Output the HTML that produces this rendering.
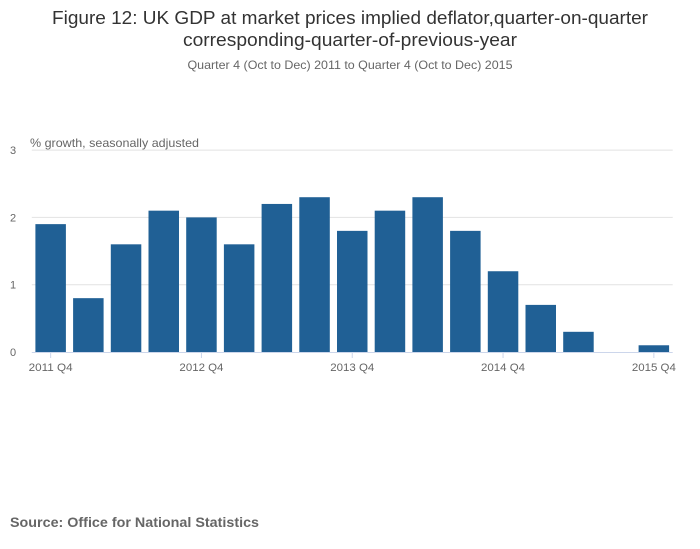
<!DOCTYPE html>
<html><head><meta charset="utf-8"><style>
body{margin:0;background:#fff;}
svg{display:block;font-family:"Liberation Sans",sans-serif;}
</style></head><body>
<svg width="700" height="549" viewBox="0 0 700 549">
<text x="350" y="24" text-anchor="middle" font-size="18" fill="#333" textLength="596" lengthAdjust="spacingAndGlyphs">Figure 12: UK GDP at market prices implied deflator,quarter-on-quarter</text>
<text x="350" y="46" text-anchor="middle" font-size="18" fill="#333" textLength="334" lengthAdjust="spacingAndGlyphs">corresponding-quarter-of-previous-year</text>
<text x="350" y="69" text-anchor="middle" font-size="12" fill="#666" textLength="325" lengthAdjust="spacingAndGlyphs">Quarter 4 (Oct to Dec) 2011 to Quarter 4 (Oct to Dec) 2015</text>
<text x="30" y="147" font-size="12" fill="#666" textLength="169" lengthAdjust="spacingAndGlyphs">% growth, seasonally adjusted</text>
<g id="grid"></g><g id="bars"></g><g id="xaxis"></g>
<text x="10" y="527" font-size="14" font-weight="bold" fill="#666" textLength="249" lengthAdjust="spacingAndGlyphs">Source: Office for National Statistics</text>
</svg>
<script>
const categories=["2011 Q4","2012 Q1","2012 Q2","2012 Q3","2012 Q4","2013 Q1","2013 Q2","2013 Q3","2013 Q4","2014 Q1","2014 Q2","2014 Q3","2014 Q4","2015 Q1","2015 Q2","2015 Q3","2015 Q4"];
const values=[1.9,0.8,1.6,2.1,2.0,1.6,2.2,2.3,1.8,2.1,2.3,1.8,1.2,0.7,0.3,0,0.1];
const yTicks=[0,1,2,3];
const xTickLabels=["2011 Q4","2012 Q4","2013 Q4","2014 Q4","2015 Q4"];
const NS="http://www.w3.org/2000/svg";
const x0=31.8,slot=37.7,y0=352,yScale=67.3,x1=x0+slot*categories.length;
const y=v=>y0-v*yScale;
const xc=i=>x0+slot*(i+0.5);
function mk(t,a,p){const e=document.createElementNS(NS,t);for(const k in a)e.setAttribute(k,a[k]);p.appendChild(e);return e;}
const grid=document.getElementById('grid'),bars=document.getElementById('bars'),xa=document.getElementById('xaxis');
yTicks.forEach(t=>{
 if(t>0){const l=mk('line',{x1:x0,x2:x1,y1:y(t),y2:y(t),stroke:'#e2e2e2','stroke-width':1},grid);
 
 }
 const tx=mk('text',{x:13,y:y(t)+4,'font-size':11,fill:'#666','text-anchor':'middle'},grid);tx.textContent=t;
 
 
});
values.forEach((v,i)=>{
 const bw=30.5;
 const r=mk('rect',{x:xc(i)-bw/2,y:y(v),width:bw,height:v*yScale,fill:'#206095'},bars);
 
 
});
const ax=mk('line',{x1:x0,x2:x1,y1:y0+0.5,y2:y0+0.5,stroke:'#ccd6eb','stroke-width':1},xa);


categories.forEach((c,i)=>{
 const k=xTickLabels.indexOf(c);if(k<0)return;
 const tk=mk('line',{x1:xc(i),x2:xc(i),y1:y0,y2:y0+6,stroke:'#ccd6eb'},xa);
 
 
 const t=mk('text',{x:xc(i),y:y0+19,'font-size':11,fill:'#666','text-anchor':'middle',textLength:44,lengthAdjust:'spacingAndGlyphs'},xa);t.textContent=c;
 
 
});
</script>
</body></html>
